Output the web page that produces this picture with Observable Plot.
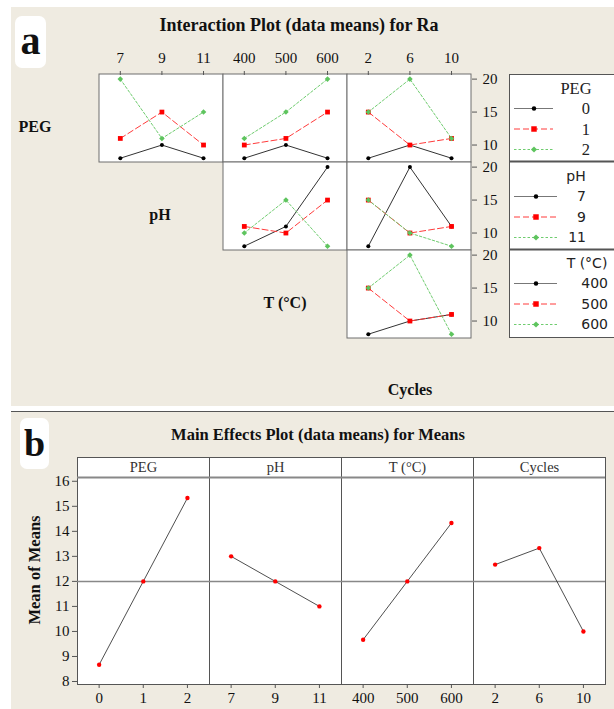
<!DOCTYPE html>
<html><head><meta charset="utf-8">
<script src="https://cdn.jsdelivr.net/npm/d3@7"></script>
<script src="https://cdn.jsdelivr.net/npm/@observablehq/plot@0.6"></script>
<style>
body{margin:0;background:#fff;}
#root{position:relative;width:614px;height:709px;overflow:hidden;background:#fff;font-family:"Liberation Serif",serif;color:#111;}
.bg{position:absolute;background:#efebe1;}
.lbl{position:absolute;white-space:nowrap;transform:translate(-50%,-50%);line-height:1;}
.badge{position:absolute;background:#fff;border-radius:7px;font-weight:bold;text-align:center;}
.abs{position:absolute;}
</style></head><body><div id="root"></div>
<script>
// ---------- data ----------
const pegLevels = [0, 1, 2];
const phLevels = [7, 9, 11];
const tLevels = [400, 500, 600];
const cycleLevels = [2, 6, 10];
// interaction means for Ra: rows = series level, columns = x level
const pegByPh     = [[8, 10, 8], [11, 15, 10], [20, 11, 15]];
const pegByT      = [[8, 10, 8], [10, 11, 15], [11, 15, 20]];
const pegByCycles = [[8, 10, 8], [15, 10, 11], [15, 20, 11]];
const phByT       = [[8, 11, 20], [11, 10, 15], [10, 15, 8]];
const phByCycles  = [[8, 20, 11], [15, 10, 11], [15, 10, 8]];
const tByCycles   = [[8, 10, 11], [15, 10, 11], [15, 20, 8]];
const raTicks = [10, 15, 20];
// main effects means
const factorNames = ["PEG", "pH", "T (°C)", "Cycles"];
const pegMeans = [8.67, 12, 15.33];
const phMeans = [13, 12, 11];
const tMeans = [9.67, 12, 14.33];
const cycleMeans = [12.67, 13.33, 10];
const meanTicks = [8, 9, 10, 11, 12, 13, 14, 15, 16];
const grandMean = 12;

// ---------- page ----------
const root = document.getElementById("root");
function div(cls, style, html) {
  const d = document.createElement("div");
  d.className = cls; Object.assign(d.style, style);
  if (html !== undefined) d.innerHTML = html;
  root.appendChild(d); return d;
}
div("bg", {left: "11px", top: "7px", width: "603px", height: "399px"});
div("bg", {left: "11px", top: "412px", width: "603px", height: "297px"});
div("abs", {left: "11px", top: "411px", width: "603px", height: "1px", background: "#555"});
div("badge", {left: "15px", top: "16px", width: "31px", height: "52px", fontSize: "40px", lineHeight: "50px"}, "a");
div("badge", {left: "20px", top: "418px", width: "29px", height: "51px", fontSize: "38px", lineHeight: "50px"}, "b");

const bold = (t, x, y, fs) => div("lbl", {left: x + "px", top: y + "px", fontSize: fs + "px", fontWeight: "bold"}, t);
bold("Interaction Plot (data means) for Ra", 299, 25, 18);
bold("PEG", 35, 127, 16);
bold("pH", 160, 215, 16);
bold("T (°C)", 285, 303, 16);
bold("Cycles", 410, 390, 16);
bold("Main Effects Plot (data means) for Means", 318, 435, 16.5);
const yl = bold("Mean of Means", 35, 570, 16.5);
yl.style.transform = "translate(-50%,-50%) rotate(-90deg)";

// ---------- interaction plot ----------
const colNames = ["pH", "T", "Cycles"];
const rowNames = ["PEG", "pH", "T"];
const colLevels = {pH: phLevels, T: tLevels, Cycles: cycleLevels};
const panels = [
  {row: "PEG", col: "pH", vals: pegByPh},
  {row: "PEG", col: "T", vals: pegByT},
  {row: "PEG", col: "Cycles", vals: pegByCycles},
  {row: "pH", col: "T", vals: phByT},
  {row: "pH", col: "Cycles", vals: phByCycles},
  {row: "T", col: "Cycles", vals: tByCycles}
];
const pts = panels.flatMap(p => p.vals.flatMap((series, s) => series.map((v, i) => ({row: p.row, col: p.col, s, i, value: v}))));
const topTicks = colNames.flatMap(c => colLevels[c].map((v, i) => ({col: c, i, label: String(v)})));
const styles = [
  {stroke: "#333", dash: null, symbol: "circle", r: 2, fill: "#000"},
  {stroke: "#ff3b3b", dash: "6,3", symbol: "square", r: 2.7, fill: "#ff0000"},
  {stroke: "#6fcc6f", dash: "2.5,2", symbol: "diamond2", r: 2.5, fill: "#5ec45e"}
];
const seriesMarks = styles.flatMap((st, k) => {
  const d = pts.filter(p => p.s === k);
  return [
    Plot.line(d, {fx: "col", fy: "row", x: "i", y: "value", stroke: st.stroke, strokeWidth: 1, strokeDasharray: st.dash}),
    Plot.dot(d, {fx: "col", fy: "row", x: "i", y: "value", symbol: st.symbol, r: st.r, fill: st.fill, stroke: "none"})
  ];
});
const ml = 5, mt = 34, mr = 40, mb = 4, W = 374, H = 264;
const ip = Plot.plot({
  width: W + ml + mr, height: H + mt + mb,
  marginLeft: ml, marginTop: mt, marginRight: mr, marginBottom: mb,
  style: {background: "transparent", fontFamily: "Liberation Serif", fontSize: "15px", color: "#111", overflow: "visible"},
  fx: {domain: colNames, padding: 0, axis: null},
  fy: {domain: rowNames, padding: 0, axis: null},
  x: {domain: [-0.5, 2.48]},
  y: {domain: [7.35, 20.7]},
  marks: [
    Plot.rect(panels, {fx: "col", fy: "row", fill: "white", stroke: "#6e6e6e", strokeWidth: 1}),
    Plot.axisX({anchor: "top", facetAnchor: "top", ticks: [0, 1, 2], tickFormat: () => "", tickSize: 4, stroke: "#555", label: null}),
    Plot.text(topTicks, {fx: "col", fy: () => "PEG", x: "i", text: "label", frameAnchor: "top", lineAnchor: "middle", dy: -16, fontSize: 15, fill: "#111"}),
    Plot.axisY({anchor: "right", facetAnchor: "right", ticks: raTicks, tickSize: 5, tickPadding: 6, stroke: "#555", label: null, fill: "#111"}),
    ...seriesMarks
  ]
});
Object.assign(ip.style, {position: "absolute", left: (98 - ml) + "px", top: (74 - mt) + "px"});
root.appendChild(ip);

// ---------- legend ----------
const legendGroups = [
  {title: "PEG", labels: pegLevels, titleX: 67, labelX: 81, lineEnd: 44, mark: 25, top: 0, font: "Liberation Serif", fs: 16.5},
  {title: "pH", labels: phLevels, titleX: 67, labelX: 77, lineEnd: 48, mark: 27, top: 88, font: "DejaVu Sans", fs: 14},
  {title: "T (°C)", labels: tLevels, titleX: 78, labelX: 99, lineEnd: 48, mark: 27, top: 175, font: "DejaVu Sans", fs: 14}
];
const lg = d3.create("svg").attr("width", 110).attr("height", 266)
  .style("position", "absolute").style("left", "509px").style("top", "73.5px");
lg.append("rect").attr("x", 0.5).attr("y", 0.5).attr("width", 120).attr("height", 263).attr("fill", "white").attr("stroke", "#555");
[87.5, 175.5].forEach(y => lg.append("line").attr("x1", 0).attr("x2", 110).attr("y1", y).attr("y2", y).attr("stroke", "#555").attr("stroke-width", 2));
legendGroups.forEach(g => {
  lg.append("text").attr("x", g.titleX).attr("y", g.top + 14).attr("text-anchor", "middle").attr("dy", "0.35em")
    .attr("fill", "#222").attr("font-family", g.font).attr("font-size", g.fs).text(g.title);
  g.labels.forEach((lab, k) => {
    const y = g.top + 34.5 + k * 20.5;
    const st = styles[k];
    lg.append("line").attr("x1", 5).attr("x2", g.lineEnd).attr("y1", y).attr("y2", y)
      .attr("stroke", k === 0 ? "#777" : st.stroke).attr("stroke-width", 1).attr("stroke-dasharray", st.dash);
    lg.append("path").attr("transform", `translate(${g.mark},${y})`)
      .attr("d", d3.symbol(k === 0 ? d3.symbolCircle : k === 1 ? d3.symbolSquare : d3.symbolDiamond2, k === 0 ? 16 : k === 1 ? 30 : 24)())
      .attr("fill", st.fill);
    lg.append("text").attr("x", g.labelX).attr("y", y).attr("dy", "0.35em").attr("text-anchor", "end")
      .attr("fill", "#222").attr("font-family", g.font).attr("font-size", g.fs).text(lab);
  });
});
root.appendChild(lg.node());

// ---------- main effects plot ----------
const factorLevels = [pegLevels, phLevels, tLevels, cycleLevels];
const factorMeans = [pegMeans, phMeans, tMeans, cycleMeans];
const mePts = factorNames.flatMap((f, j) => factorMeans[j].map((v, i) => ({f, i, value: v})));
const meTicks = factorNames.flatMap((f, j) => factorLevels[j].map((v, i) => ({f, i, label: String(v)})));
const stripY = 16.15;
const mml = 50, mmt = 5, mmr = 9, mmb = 25, MW = 528, MH = 227;
const me = Plot.plot({
  width: MW + mml + mmr, height: MH + mmt + mmb,
  marginLeft: mml, marginTop: mmt, marginRight: mmr, marginBottom: mmb,
  style: {background: "transparent", fontFamily: "Liberation Serif", fontSize: "15px", color: "#111", overflow: "visible"},
  fx: {domain: factorNames, padding: 0, axis: null},
  x: {domain: [-0.49, 2.5]},
  y: {domain: [7.88, 16.95]},
  marks: [
    Plot.frame({fill: "white", stroke: "#555"}),
    Plot.ruleY([stripY], {stroke: "#888", strokeWidth: 2}),
    Plot.ruleY([grandMean], {stroke: "#888", strokeWidth: 1.5}),
    Plot.text(factorNames, {fx: d => d, text: d => d, frameAnchor: "top", lineAnchor: "middle", dy: 10, fontSize: 14.5, fill: "#333"}),
    Plot.axisX({anchor: "bottom", ticks: [0, 1, 2], tickFormat: () => "", tickSize: 4, stroke: "#555", label: null}),
    Plot.text(meTicks, {fx: "f", x: "i", text: "label", frameAnchor: "bottom", lineAnchor: "middle", dy: 14, fontSize: 15, fill: "#111"}),
    Plot.axisY({anchor: "left", facetAnchor: "left", ticks: meanTicks, tickSize: 5, tickPadding: 3, stroke: "#555", label: null, fill: "#111"}),
    Plot.line(mePts, {fx: "f", x: "i", y: "value", stroke: "#222", strokeWidth: 0.8}),
    Plot.dot(mePts, {fx: "f", x: "i", y: "value", r: 2.2, fill: "#ff0000", stroke: "none"})
  ]
});
Object.assign(me.style, {position: "absolute", left: (77 - mml) + "px", top: (457 - mmt) + "px"});
root.appendChild(me);
</script></body></html>
